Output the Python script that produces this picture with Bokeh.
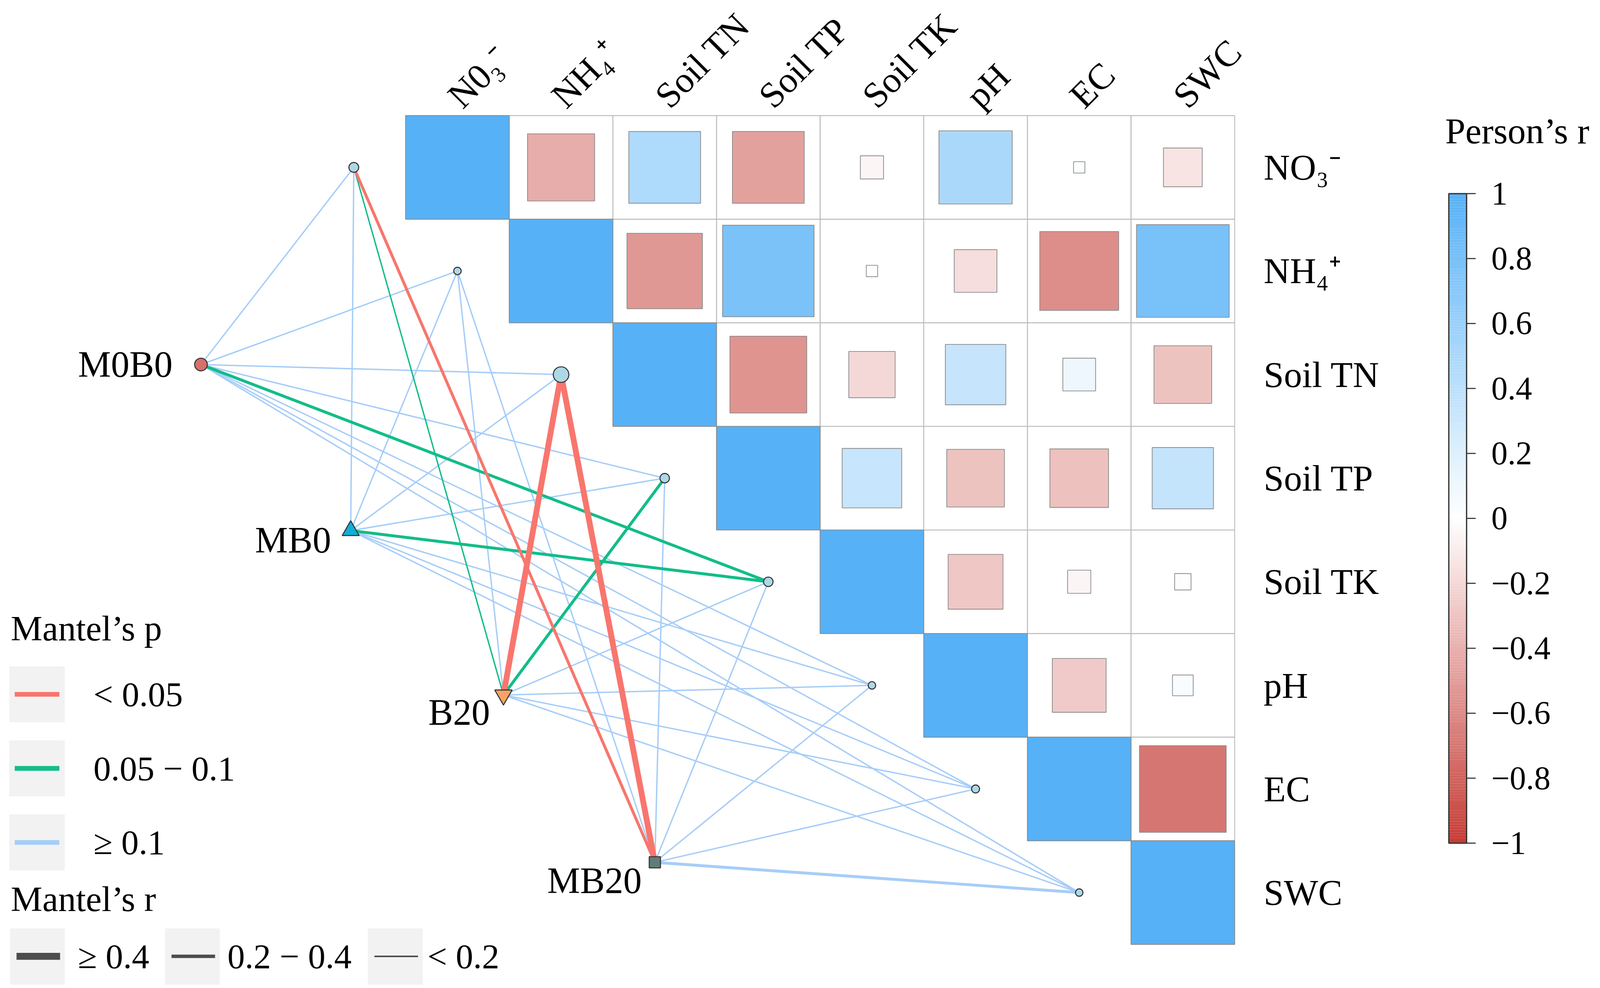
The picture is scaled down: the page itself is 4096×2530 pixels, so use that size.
import math
import numpy as np
from bokeh.plotting import figure
from bokeh.models import Range1d
from bokeh.core.properties import value
from bokeh.embed import file_html
from bokeh.resources import INLINE

# ---------------- data ----------------
top_labels = ["N0₃⁻", "NH₄⁺", "Soil TN", "Soil TP", "Soil TK", "pH", "EC", "SWC"]
side_labels = ["NO₃⁻", "NH₄⁺", "Soil TN", "Soil TP", "Soil TK", "pH", "EC", "SWC"]

# Pearson's r, upper triangle (row i starts at the diagonal)
r_row0 = [1.00, -0.42, 0.48, -0.48, -0.05, 0.50, 0.012, -0.14]
r_row1 = [1.00, -0.53, 0.78, 0.012, -0.17, -0.58, 0.80]
r_row2 = [1.00, -0.55, -0.20, 0.34, 0.10, -0.31]
r_row3 = [1.00, 0.33, -0.31, -0.32, 0.35]
r_row4 = [1.00, -0.28, -0.05, 0.025]
r_row5 = [1.00, -0.27, 0.04]
r_row6 = [1.00, -0.70]
r_row7 = [1.00]
r_rows = [r_row0, r_row1, r_row2, r_row3, r_row4, r_row5, r_row6, r_row7]

groups = ["M0B0", "MB0", "B20", "MB20"]
# Mantel's r and p, per group, against the 8 soil variables
mantel_r_M0B0 = [0.12, 0.15, 0.13, 0.14, 0.32, 0.08, 0.10, 0.11]
mantel_r_MB0  = [0.05, 0.09, 0.11, 0.07, 0.28, 0.06, 0.12, 0.10]
mantel_r_B20  = [0.16, 0.10, 0.46, 0.30, 0.09, 0.15, 0.07, 0.08]
mantel_r_MB20 = [0.27, 0.06, 0.52, 0.10, 0.04, 0.12, 0.09, 0.24]
mantel_p_M0B0 = [0.31, 0.22, 0.28, 0.25, 0.07, 0.45, 0.38, 0.36]
mantel_p_MB0  = [0.62, 0.41, 0.33, 0.52, 0.08, 0.58, 0.29, 0.35]
mantel_p_B20  = [0.09, 0.34, 0.01, 0.06, 0.44, 0.19, 0.55, 0.49]
mantel_p_MB20 = [0.03, 0.66, 0.01, 0.40, 0.71, 0.30, 0.42, 0.12]
mantel_r = [mantel_r_M0B0, mantel_r_MB0, mantel_r_B20, mantel_r_MB20]
mantel_p = [mantel_p_M0B0, mantel_p_MB0, mantel_p_B20, mantel_p_MB20]

p_legend_labels = ["< 0.05", "0.05 − 0.1", "≥ 0.1"]
r_legend_labels = ["≥ 0.4", "0.2 − 0.4", "< 0.2"]
cbar_ticks = [1, 0.8, 0.6, 0.4, 0.2, 0, -0.2, -0.4, -0.6, -0.8, -1]

# ---------------- styles / layout (reference pixel units) ----------------
S = 0.9292
W, H = 4094, 2528
GX0, GY0, CELL = 1117.0, 318.0, 285.5
FONT = "Liberation Serif"

HIGH, LOW = (86, 177, 247), (197, 60, 53)
P_COLORS = ["#F8766D", "#12BD88", "#A6CDF8"]
R_WIDTHS = [16.0, 8.0, 3.8]
R_KEY_WIDTHS = [19.0, 9.3, 4.3]

group_pos_cells = [(-1.975, 2.403), (-0.530, 4.006), (0.944, 5.593), (2.405, 7.208)]
group_markers = ["circle", "triangle", "inverted_triangle", "square"]
group_colors = ["#D6706C", "#0FAFD8", "#F6A465", "#5E7D7A"]
group_sizes = [35, 47, 48, 31]
group_label_off = [(-78, 0), (-54, 27), (-37, 48), (-36, 51)]
env_node_sizes = [27, 20.5, 43, 26, 26, 20.5, 22, 20.5]


def rcolor(r):
    end = HIGH if r >= 0 else LOW
    t = min(abs(r), 1.0)
    c = [int(round(255 + t * (e - 255))) for e in end]
    return "#%02x%02x%02x" % tuple(c)


def fs(px):
    return value("%.1fpx" % (px * S))


# ---------------- figure ----------------
p = figure(width=W, height=H, x_range=Range1d(0, W / S),
           y_range=Range1d(H / S, 0), output_backend="svg",
           toolbar_location=None, x_axis_type=None, y_axis_type=None,
           min_border=0, outline_line_color=None)
p.background_fill_color = "white"
p.border_fill_color = "white"

# grid cells and squares
gl, gr, gt, gb = [], [], [], []
sl, sr, st, sb, sc = [], [], [], [], []
for i, row in enumerate(r_rows):
    for k, r in enumerate(row):
        j = i + k
        cx = GX0 + (j + 0.5) * CELL
        cy = GY0 + (i + 0.5) * CELL
        gl.append(cx - CELL / 2); gr.append(cx + CELL / 2)
        gt.append(cy - CELL / 2); gb.append(cy + CELL / 2)
        h = math.sqrt(abs(r)) * CELL / 2
        sl.append(cx - h); sr.append(cx + h); st.append(cy - h); sb.append(cy + h)
        sc.append(rcolor(r))
p.quad(left=gl, right=gr, top=gt, bottom=gb, fill_color=None,
       line_color="#BDBDBD", line_width=2.5 * S)
p.quad(left=sl, right=sr, top=st, bottom=sb, fill_color=sc,
       line_color="#8A8A8A", line_width=2.0 * S)

# right labels
p.text(x=[GX0 + 8 * CELL + 80] * 8, y=[GY0 + (i + 0.5) * CELL for i in range(8)],
       text=side_labels, text_font=value(FONT), text_font_size=fs(100),
       text_align="left", text_baseline="middle", text_color="black")
# top labels
p.text(x=[GX0 + (j + 0.53) * CELL - 18 for j in range(8)], y=[GY0 - 39] * 8,
       text=top_labels, angle=math.pi / 4, text_font=value(FONT),
       text_font_size=fs(100), text_align="left", text_baseline="alphabetic",
       text_color="black")

# network edges
env_x = [GX0 + (i - 0.5) * CELL for i in range(8)]
env_y = [GY0 + (i + 0.5) * CELL for i in range(8)]
grp_x = [GX0 + cx * CELL for cx, cy in group_pos_cells]
grp_y = [GY0 + cy * CELL for cx, cy in group_pos_cells]


def p_class(v):
    return 0 if v < 0.05 else (1 if v < 0.1 else 2)


def r_class(v):
    return 0 if v >= 0.4 else (1 if v >= 0.2 else 2)


edges = []
for g in range(4):
    for e in range(8):
        edges.append((p_class(mantel_p[g][e]), r_class(mantel_r[g][e]), g, e))
edges.sort(key=lambda t: (-t[0], -t[1]))
p.segment(x0=[grp_x[g] for _, _, g, _ in edges], y0=[grp_y[g] for _, _, g, _ in edges],
          x1=[env_x[e] for _, _, _, e in edges], y1=[env_y[e] for _, _, _, e in edges],
          line_color=[P_COLORS[pc] for pc, _, _, _ in edges],
          line_width=[R_WIDTHS[rc] * S for _, rc, _, _ in edges])

# env nodes
p.scatter(x=env_x, y=env_y, marker="circle", size=[s * S for s in env_node_sizes],
          fill_color="#ADD8E6", line_color="#333333", line_width=2.8 * S)
# group nodes
for g in range(4):
    p.scatter(x=[grp_x[g]], y=[grp_y[g]], marker=group_markers[g], size=group_sizes[g] * S,
              fill_color=group_colors[g], line_color="#333333", line_width=2.8 * S)
p.text(x=[grp_x[g] + group_label_off[g][0] for g in range(4)],
       y=[grp_y[g] + group_label_off[g][1] for g in range(4)],
       text=groups, text_font=value(FONT), text_font_size=fs(102),
       text_align="right", text_baseline="middle", text_color="black")

# ---------------- colour bar ----------------
CB_L, CB_R, CB_T, CB_B = 3991.0, 4040.0, 533.0, 2323.0
n = 240
vals = np.linspace(1, -1, n + 1)
ys = CB_T + (1 - vals) / 2 * (CB_B - CB_T)
mid = (vals[:-1] + vals[1:]) / 2
p.quad(left=[CB_L] * n, right=[CB_R] * n, top=list(ys[:-1]), bottom=list(ys[1:]),
       fill_color=[rcolor(v) for v in mid], line_color=None)
p.quad(left=[CB_L], right=[CB_R], top=[CB_T], bottom=[CB_B], fill_color=None,
       line_color="#333333", line_width=3.5 * S)
ty = [CB_T + (1 - v) / 2 * (CB_B - CB_T) for v in cbar_ticks]
p.segment(x0=[CB_R] * len(ty), x1=[CB_R + 25] * len(ty), y0=ty, y1=ty,
          line_color="#333333", line_width=3.0 * S)
tick_text = [("%g" % v).replace("-", "−") for v in cbar_ticks]
p.text(x=[4108] * len(ty), y=ty, text=tick_text, text_font=value(FONT),
       text_font_size=fs(90), text_align="left", text_baseline="middle", text_color="black")
p.text(x=[3981], y=[360], text=["Person’s r"], text_font=value(FONT), text_font_size=fs(100),
       text_align="left", text_baseline="middle", text_color="black")

# ---------------- Mantel legends ----------------
p.text(x=[29, 29], y=[1732, 2477], text=["Mantel’s p", "Mantel’s r"], text_font=value(FONT),
       text_font_size=fs(98), text_align="left", text_baseline="middle", text_color="black")
key_cy = [1913, 2117, 2321]
p.quad(left=[25] * 3, right=[178] * 3, top=[c - 77 for c in key_cy], bottom=[c + 77 for c in key_cy],
       fill_color="#F2F2F2", line_color=None)
p.segment(x0=[40] * 3, x1=[163] * 3, y0=key_cy, y1=key_cy, line_color=P_COLORS, line_width=13 * S)
p.text(x=[257] * 3, y=key_cy, text=p_legend_labels, text_font=value(FONT), text_font_size=fs(96),
       text_align="left", text_baseline="middle", text_color="black")

rk_l = [27, 454, 1013]
rk_cy = 2635
p.quad(left=rk_l, right=[x + 151 for x in rk_l], top=[rk_cy - 77] * 3, bottom=[rk_cy + 78] * 3,
       fill_color="#F2F2F2", line_color=None)
p.segment(x0=[x + 18 for x in rk_l], x1=[x + 138 for x in rk_l], y0=[rk_cy] * 3, y1=[rk_cy] * 3,
          line_color="#4D4D4D", line_width=[w * S for w in R_KEY_WIDTHS])
p.text(x=[214, 626, 1177], y=[rk_cy] * 3, text=r_legend_labels, text_font=value(FONT),
       text_font_size=fs(96), text_align="left", text_baseline="middle", text_color="black")

open("out.html", "w").write(file_html(p, INLINE))
